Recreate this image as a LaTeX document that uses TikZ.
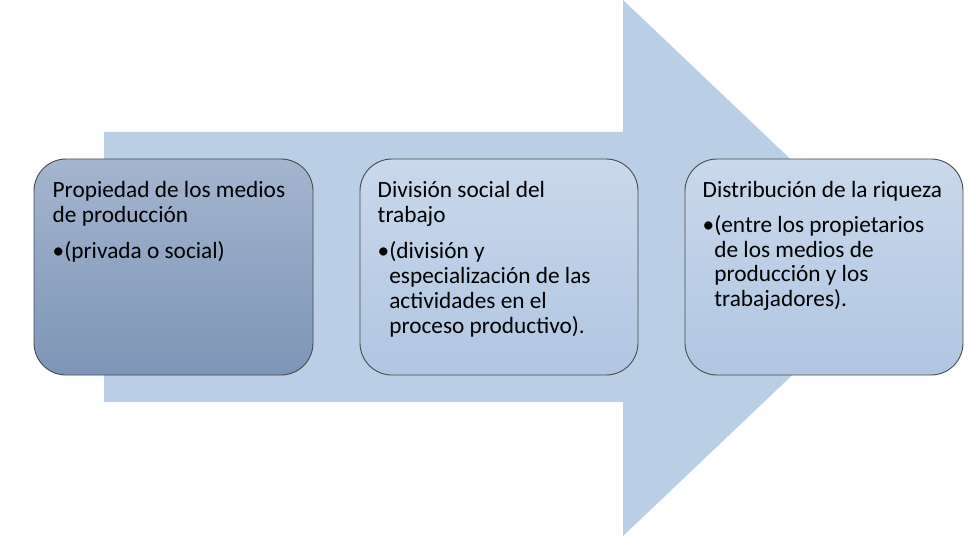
\documentclass[tikz,border=0pt]{standalone}
\usepackage{fontspec}
\setmainfont{Carlito}
\definecolor{arrowblue}{HTML}{BACEE6}
\definecolor{boxline}{HTML}{4A4A4A}
\definecolor{oneTop}{HTML}{A4B5CF}
\definecolor{oneBot}{HTML}{7D95B7}
\definecolor{twoTop}{HTML}{CAD8EB}
\definecolor{twoBot}{HTML}{B0C6E2}
\begin{document}
\begin{tikzpicture}[x=1pt,y=-1pt,
  box/.style={draw=boxline, line width=0.9pt, rounded corners=32pt},
  txt/.style={anchor=base west, inner sep=0pt, font=\fontsize{23.3}{25}\selectfont, text=black}]
\useasboundingbox (0,0) rectangle (976,548);
% big arrow
\fill[arrowblue] (104,132) -- (623,132) -- (623,0) -- (905,268) -- (623,536) -- (623,402) -- (104,402) -- cycle;
% boxes
\path[box, top color=oneTop, bottom color=oneBot] (34,159) rectangle (313,375);
\path[box, top color=twoTop, bottom color=twoBot] (360,159) rectangle (638,375);
\path[box, top color=twoTop, bottom color=twoBot] (685,159) rectangle (963,375);
% box 1 text
\node[txt] (a1) at (52.5,197) {Propiedad de los medios};
\node[txt] (a2) at (52.5,222) {de producción};
\node[txt] (a3) at (52.5,258) {•(privada o social)};
% box 2 text
\node[txt] (b1) at (377.5,197) {División social del};
\node[txt] (b2) at (377.5,222) {trabajo};
\node[txt] (b3) at (377.5,258) {•(división y};
\node[txt] (b4) at (377.5,283) {\phantom{•}especialización de las};
\node[txt] (b5) at (377.5,308) {\phantom{•}actividades en el};
\node[txt] (b6) at (377.5,333) {\phantom{•}proceso productivo).};
% box 3 text
\node[txt] (c1) at (702.5,197) {Distribución de la riqueza};
\node[txt] (c2) at (702.5,232.5) {•(entre los propietarios};
\node[txt] (c3) at (702.5,257) {\phantom{•}de los medios de};
\node[txt] (c4) at (702.5,281.5) {\phantom{•}producción y los};
\node[txt] (c5) at (702.5,306) {\phantom{•}trabajadores).};
\end{tikzpicture}
\end{document}
